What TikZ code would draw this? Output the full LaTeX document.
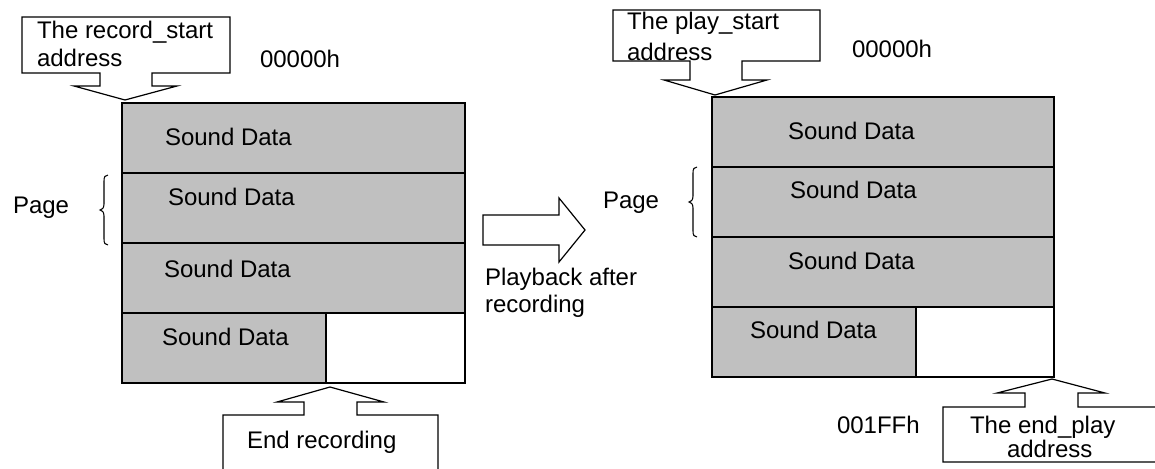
\documentclass[tikz,border=0pt]{standalone}
\usepackage{fontspec}
\setmainfont{Liberation Sans}
\definecolor{sdgray}{RGB}{192,192,192}
\begin{document}
\begin{tikzpicture}[x=0.75pt,y=-0.75pt,
  every node/.style={inner sep=0pt,outer sep=0pt,font=\fontsize{18}{21}\selectfont},
  lbl/.style={anchor=base west},
  cell/.style={draw=black,line width=0.9pt,fill=sdgray,anchor=north west},
  ecell/.style={draw=black,line width=0.9pt,fill=white,anchor=north west},
  outl/.style={draw=black,line width=0.9pt},
]
\useasboundingbox (0,0) rectangle (1155,468);

% ---------- left memory block ----------
\node[cell,minimum width=343*0.75pt,minimum height=70*0.75pt] (la) at (122,103) {};
\node[cell,minimum width=343*0.75pt,minimum height=70*0.75pt] (lb) at (122,173) {};
\node[cell,minimum width=343*0.75pt,minimum height=70*0.75pt] (lc) at (122,243) {};
\node[cell,minimum width=204*0.75pt,minimum height=70*0.75pt] (ld) at (122,313) {};
\node[ecell,minimum width=139*0.75pt,minimum height=70*0.75pt] (le) at (326,313) {};
\node[lbl] (lta) at (165,145) {Sound Data};
\node[lbl] (ltb) at (168,205) {Sound Data};
\node[lbl] (ltc) at (164,277) {Sound Data};
\node[lbl] (ltd) at (162,345) {Sound Data};

% ---------- right memory block ----------
\node[cell,minimum width=342*0.75pt,minimum height=70*0.75pt] (ra) at (712,97) {};
\node[cell,minimum width=342*0.75pt,minimum height=70*0.75pt] (rb) at (712,167) {};
\node[cell,minimum width=342*0.75pt,minimum height=70*0.75pt] (rc) at (712,237) {};
\node[cell,minimum width=204*0.75pt,minimum height=70*0.75pt] (rd) at (712,307) {};
\node[ecell,minimum width=138*0.75pt,minimum height=70*0.75pt] (re) at (916,307) {};
\node[lbl] (rta) at (788,139) {Sound Data};
\node[lbl] (rtb) at (790,198) {Sound Data};
\node[lbl] (rtc) at (788,269) {Sound Data};
\node[lbl] (rtd) at (750,338) {Sound Data};

% ---------- record_start callout ----------
\draw[outl] (22,17) -- (230,17) -- (230,73) -- (152,73) -- (152,86) -- (177,86)
  -- (125,100) -- (74,86) -- (100,86) -- (100,73) -- (22,73) -- cycle;
\node[lbl] (rs1) at (37,38) {The record\_start};
\node[lbl] (rs2) at (37,66) {address};
\node[lbl] (ad1) at (260,67) {00000h};

% ---------- play_start callout ----------
\begin{scope}
\clip (613,10) rectangle (820,61);
\node[lbl] (ps1) at (627,29) {The play\_start};
\node[lbl] (ps2) at (627,60) {address};
\end{scope}
\draw[outl] (613,10) -- (820,10) -- (820,61) -- (742,61) -- (742,80) -- (767,80)
  -- (715,95) -- (664,80) -- (690,80) -- (690,61) -- (613,61) -- cycle;
\node[lbl] (ad2) at (852,57) {00000h};

% ---------- end recording callout ----------
\draw[outl] (223,470) -- (223,415) -- (304,415) -- (304,402) -- (277,402)
  -- (330,387) -- (384,402) -- (357,402) -- (357,415) -- (438,415) -- (438,470);
\node[lbl] (er) at (247,448) {End recording};

% ---------- end_play callout ----------
\draw[outl] (1160,462) -- (943,462) -- (943,407) -- (1025,407) -- (1025,393) -- (997,393)
  -- (1052,379) -- (1105,393) -- (1078,393) -- (1078,407) -- (1160,407);
\node[lbl] (ep1) at (970,433) {The end\_play};
\node[lbl] (ep2) at (1007,457) {address};
\node[lbl] (ad3) at (837,433) {001FFh};

% ---------- page braces ----------
\node[lbl] (pg1) at (13,213) {Page};
\draw[line width=0.8pt] (108,175) .. controls (105,175) and (104,177) .. (104,181) -- (104,204)
  .. controls (104,208) and (102,210) .. (100,210) .. controls (102,210) and (104,212) .. (104,216)
  -- (104,239) .. controls (104,243) and (105,245) .. (108,245);
\node[lbl] (pg2) at (603,208) {Page};
\draw[line width=0.8pt] (697,167) .. controls (694,167) and (693,169) .. (693,173) -- (693,196)
  .. controls (693,200) and (691,202) .. (689,202) .. controls (691,202) and (693,204) .. (693,208)
  -- (693,231) .. controls (693,235) and (694,237) .. (697,237);

% ---------- big arrow ----------
\draw[outl] (483,215) -- (559,215) -- (559,198) -- (585,230) -- (559,262) -- (559,245)
  -- (483,245) -- cycle;
\node[lbl] (pb1) at (485,285) {Playback after};
\node[lbl] (pb2) at (485,312) {recording};
\end{tikzpicture}
\end{document}
